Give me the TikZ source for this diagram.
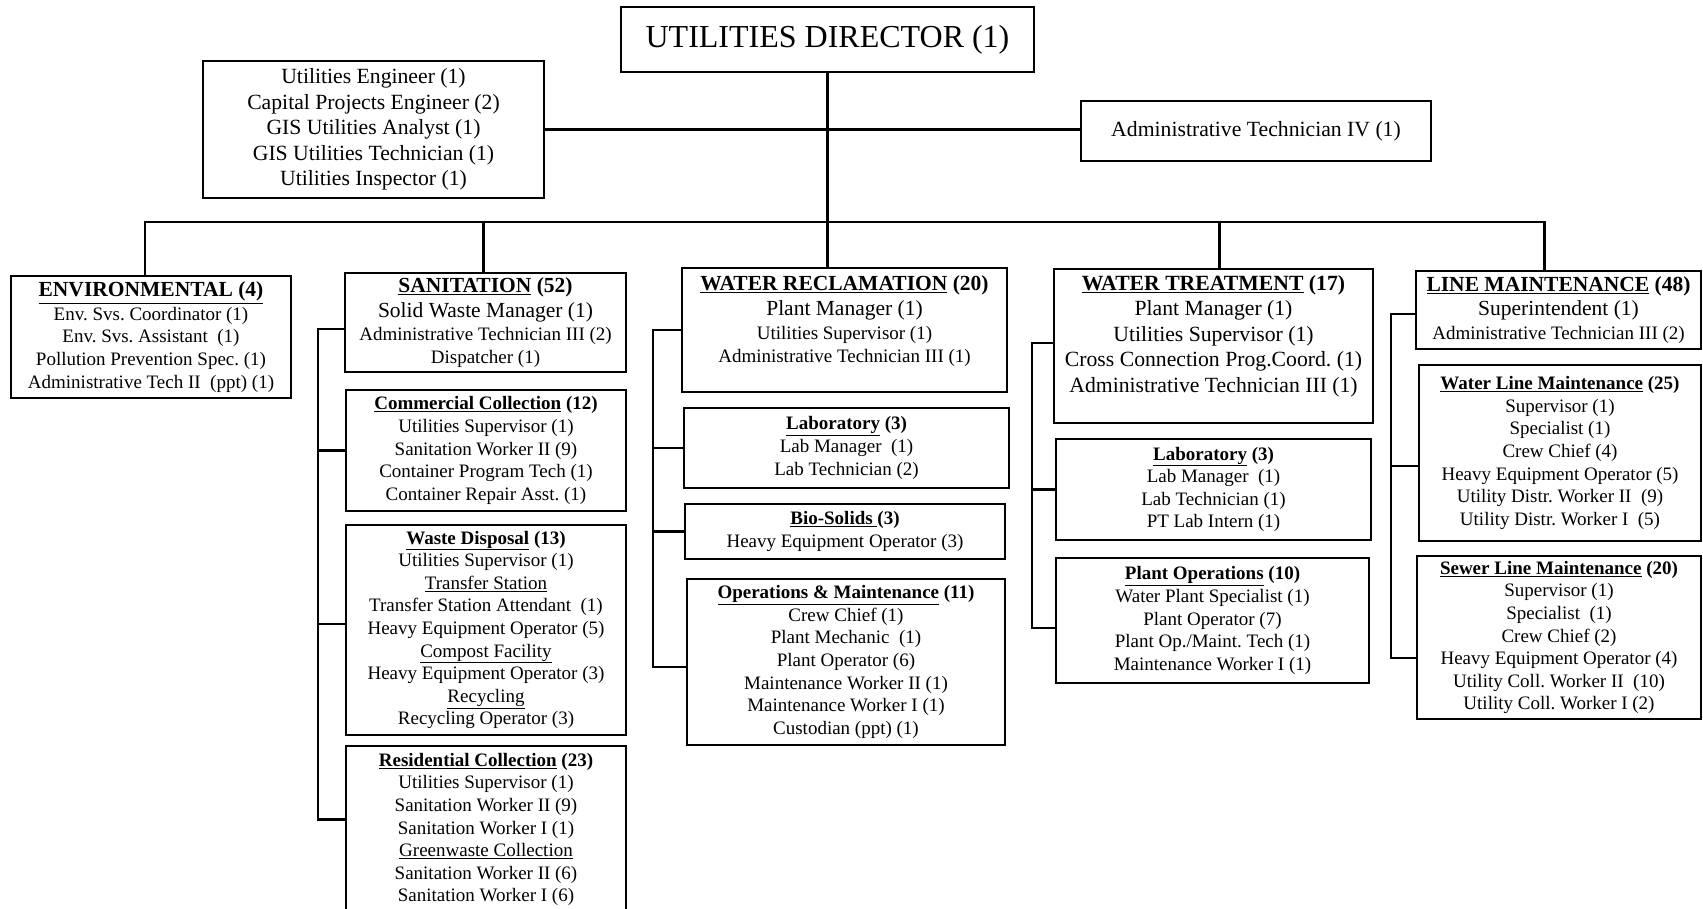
\documentclass[tikz,border=0pt]{standalone}
\usepackage{fontspec}
\setmainfont{Liberation Serif}
\usetikzlibrary{positioning}
\newcommand{\bigsz}{\fontsize{21.5}{25.5}\selectfont}

\begin{document}
\frenchspacing
\begin{tikzpicture}[
  x=1pt, y=-1pt,
  unit/.style={draw, line width=2pt, inner sep=0pt, anchor=north west, align=center, font=\fontsize{19}{22.6}\selectfont},
  txt/.style={inner sep=0pt, align=center, font=\fontsize{19}{22.6}\selectfont},
  link/.style={line width=2.4pt}
]
  \useasboundingbox (0,0) rectangle (1703,908);

  % top level
  \node[unit, minimum width=413, minimum height=65, font=\fontsize{32}{38}\selectfont] (dir) at (620,6) {UTILITIES DIRECTOR (1)};
  \node[unit, minimum width=341, minimum height=137, font=\fontsize{21.7}{25.5}\selectfont] (staff) at (202,60)
    {Utilities Engineer (1)\\ Capital Projects Engineer (2)\\ GIS Utilities Analyst (1)\\ GIS Utilities Technician (1)\\ Utilities Inspector (1)};
  \node[unit, minimum width=350, minimum height=60, font=\fontsize{21.7}{25.5}\selectfont] (adm) at (1080,100) {Administrative Technician IV (1)};

  % divisions
  \node[unit, minimum width=280, minimum height=122] (env) at (10,275)
    {{\bigsz\bfseries\underline{ENVIRONMENTAL (4)}}\\[1pt] Env. Svs. Coordinator (1)\\ Env. Svs. Assistant\ \ (1)\\ Pollution Prevention Spec. (1)\\ Administrative Tech II\ \ (ppt) (1)};
  \node[unit, minimum width=281, minimum height=99] (san) at (344,272)
    {{\bigsz\bfseries\underline{SANITATION} (52)}\\[2pt] {\bigsz Solid Waste Manager (1)}\\[1pt] Administrative Technician III (2)\\ Dispatcher (1)};
  \node[unit, minimum width=325, minimum height=124] (wr) at (681,267) {};
  \node[txt, below=8pt of wr.north] (wrtxt)
    {{\bigsz\bfseries\underline{WATER RECLAMATION} (20)}\\[3pt] {\bigsz Plant Manager (1)}\\[1pt] Utilities Supervisor (1)\\[1pt] Administrative Technician III (1)};
  \node[unit, minimum width=319, minimum height=154] (wt) at (1053,268) {};
  \node[txt, below=7pt of wt.north, font=\fontsize{21.7}{25.5}\selectfont] (wttxt)
    {{\bfseries\underline{WATER TREATMENT} (17)}\\ Plant Manager (1)\\ Utilities Supervisor (1)\\ Cross Connection Prog.Coord. (1)\\ Administrative Technician III (1)};
  \node[unit, minimum width=285, minimum height=78] (lm) at (1415,270)
    {{\bigsz\bfseries\underline{LINE MAINTENANCE} (48)}\\[1pt] {\bigsz Superintendent (1)}\\[1pt] Administrative Technician III (2)};

  % sanitation sections
  \node[unit, minimum width=280, minimum height=121] (comm) at (345,389)
    {\textbf{\underline{Commercial Collection} (12)}\\ Utilities Supervisor (1)\\ Sanitation Worker II (9)\\ Container Program Tech (1)\\ Container Repair Asst. (1)};
  \node[unit, minimum width=280, minimum height=210] (waste) at (345,524)
    {\textbf{\underline{Waste Disposal} (13)}\\ Utilities Supervisor (1)\\ \underline{Transfer Station}\\ Transfer Station Attendant\ \ (1)\\ Heavy Equipment Operator (5)\\ \underline{Compost Facility}\\ Heavy Equipment Operator (3)\\ \underline{Recycling}\\ Recycling Operator (3)};
  \node[unit, minimum width=280, minimum height=167] (res) at (345,745)
    {\textbf{\underline{Residential Collection} (23)}\\ Utilities Supervisor (1)\\ Sanitation Worker II (9)\\ Sanitation Worker I (1)\\ \underline{Greenwaste Collection}\\ Sanitation Worker II (6)\\ Sanitation Worker I (6)};

  % water reclamation sections
  \node[unit, minimum width=325, minimum height=80] (wrlab) at (683,407)
    {\textbf{\underline{Laboratory} (3)}\\ Lab Manager\ \ (1)\\ Lab Technician (2)};
  \node[unit, minimum width=320, minimum height=55] (bio) at (684,503)
    {\textbf{\underline{Bio-Solids\ }(3)}\\ Heavy Equipment Operator (3)};
  \node[unit, minimum width=318, minimum height=166] (om) at (686,578)
    {\textbf{\underline{Operations \& Maintenance} (11)}\\ Crew Chief (1)\\ Plant Mechanic\ \ (1)\\ Plant Operator (6)\\ Maintenance Worker II (1)\\ Maintenance Worker I (1)\\ Custodian (ppt) (1)};

  % water treatment sections
  \node[unit, minimum width=315, minimum height=101] (wtlab) at (1055,438)
    {\textbf{\underline{Laboratory} (3)}\\ Lab Manager\ \ (1)\\ Lab Technician (1)\\ PT Lab Intern (1)};
  \node[unit, minimum width=313, minimum height=125] (ops) at (1055,557)
    {\textbf{\underline{Plant Operations} (10)}\\ Water Plant Specialist (1)\\ Plant Operator (7)\\ Plant Op./Maint. Tech (1)\\ Maintenance Worker I (1)};

  % line maintenance sections
  \node[unit, minimum width=282, minimum height=176] (wl) at (1418,364)
    {\textbf{\underline{Water Line Maintenance} (25)}\\ Supervisor (1)\\ Specialist (1)\\ Crew Chief (4)\\ Heavy Equipment Operator (5)\\ Utility Distr. Worker II\ \ (9)\\ Utility Distr. Worker I\ \ (5)};
  \node[unit, minimum width=284, minimum height=163] (sl) at (1416,555)
    {\textbf{\underline{Sewer Line Maintenance} (20)}\\ Supervisor (1)\\ Specialist\ \ (1)\\ Crew Chief (2)\\ Heavy Equipment Operator (4)\\ Utility Coll. Worker II\ \ (10)\\ Utility Coll. Worker I (2)};

  % bus and rails
  \coordinate (bus) at (827,222);
  \coordinate (sanrail) at (318,0);
  \coordinate (wrrail) at (653,0);
  \coordinate (wtrail) at (1032,0);
  \coordinate (lmrail) at (1391,0);

  \draw[link] (dir.south) -- (dir.south |- wr.north);
  \draw[link] (staff.east) -- (staff.east -| adm.west);
  \draw[link] ([xshift=-6pt]env.north) |- (bus) -| ([xshift=-14pt]lm.north);
  \draw[link] ([xshift=-2pt]san.north) -- ([xshift=-2pt]san.north |- bus);
  \draw[link] ([xshift=6pt]wt.north) -- ([xshift=6pt]wt.north |- bus);

  \draw[link] ([yshift=-6.5pt]san.west) -- ([yshift=-6.5pt]san.west -| sanrail) |- ([yshift=10pt]res.west);
  \draw[link] (comm.west) -- (comm.west -| sanrail);
  \draw[link] ([yshift=6pt]waste.west) -- ([yshift=6pt]waste.west -| sanrail);

  \draw[link] (wr.west) -- (wr.west -| wrrail) |- ([yshift=-5pt]om.west);
  \draw[link] (wrlab.west) -- (wrlab.west -| wrrail);
  \draw[link] (bio.west) -- (bio.west -| wrrail);

  \draw[link] ([yshift=3pt]wt.west) -- ([yshift=3pt]wt.west -| wtrail) |- ([yshift=-7.5pt]ops.west);
  \draw[link] (wtlab.west) -- (wtlab.west -| wtrail);

  \draw[link] ([yshift=-4pt]lm.west) -- ([yshift=-4pt]lm.west -| lmrail) |- ([yshift=-20.5pt]sl.west);
  \draw[link] ([yshift=-13pt]wl.west) -- ([yshift=-13pt]wl.west -| lmrail);
\end{tikzpicture}
\end{document}
